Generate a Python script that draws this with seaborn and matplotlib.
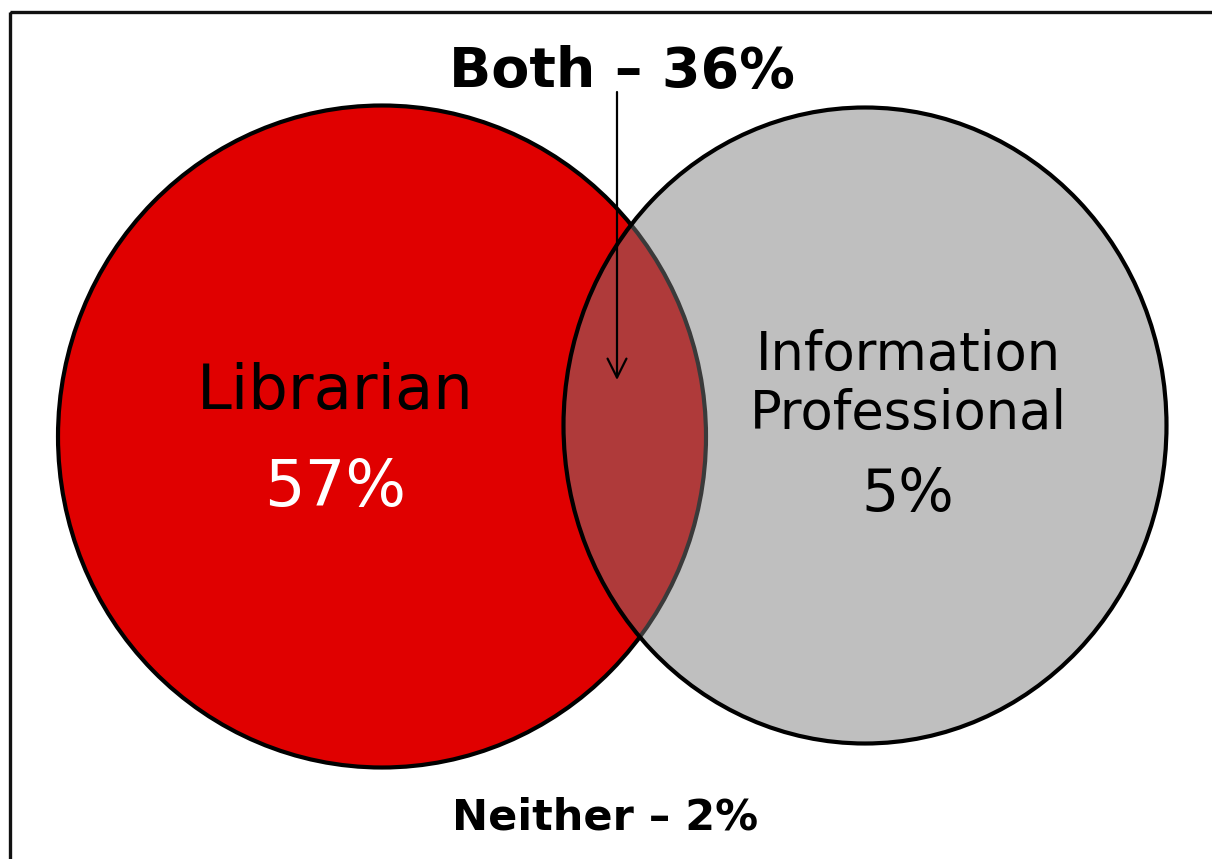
import matplotlib
matplotlib.use("Agg")
import matplotlib.pyplot as plt
import seaborn as sns
from matplotlib.patches import Ellipse, Rectangle

# ---- data ----
categories = ["Librarian", "Information\nProfessional", "Both", "Neither"]
shares = [57, 5, 36, 2]

sns.set_theme(style="white")
plt.rcParams['font.family'] = ['DejaVu Sans']

W, H = 1212, 859
fig = plt.figure(figsize=(W / 100, H / 100), dpi=100)
ax = fig.add_axes([0, 0, 1, 1])
ax.set_xlim(0, W)
ax.set_ylim(H, 0)
ax.axis("off")

# frame (left & top visible)
ax.add_patch(Rectangle((10, 12), 1400, 1000, fill=False, edgecolor="#111111",
                       lw=2.4, zorder=1))

# circles
red = Ellipse((382, 436.5), 648, 662, facecolor="#E00000", edgecolor="black",
              lw=3.0, zorder=2)
ax.add_patch(red)
gray_fill = Ellipse((865, 425.5), 603, 636, facecolor="#7a7a7a", alpha=0.48,
                    edgecolor="none", zorder=3)
ax.add_patch(gray_fill)
gray_edge = Ellipse((865, 425.5), 603, 636, facecolor="none", edgecolor="black",
                    lw=3.0, zorder=4)
ax.add_patch(gray_edge)

# labels
ax.text(335, 392, categories[0], ha="center", va="center", fontsize=45,
        color="black", zorder=5)
ax.text(335, 488, f"{shares[0]}%", ha="center", va="center", fontsize=46,
        color="white", zorder=5)
ax.text(908, 384, categories[1], ha="center", va="center", fontsize=38,
        color="black", linespacing=1.17, zorder=5)
ax.text(908, 495, f"{shares[1]}%", ha="center", va="center", fontsize=42,
        color="black", zorder=5)
ax.text(622, 72, f"{categories[2]} \u2013 {shares[2]}%", ha="center",
        va="center", fontsize=40, fontweight="bold", color="black", zorder=5)
ax.text(605, 818, f"{categories[3]} \u2013 {shares[3]}%", ha="center",
        va="center", fontsize=31, fontweight="bold", color="black", zorder=5)

# arrow
ax.annotate("", xy=(617, 380), xytext=(617, 92),
            arrowprops=dict(arrowstyle="->", color="black", lw=1.6,
                            mutation_scale=34, shrinkA=0, shrinkB=0),
            zorder=6)

fig.savefig("out.png", dpi=100)
